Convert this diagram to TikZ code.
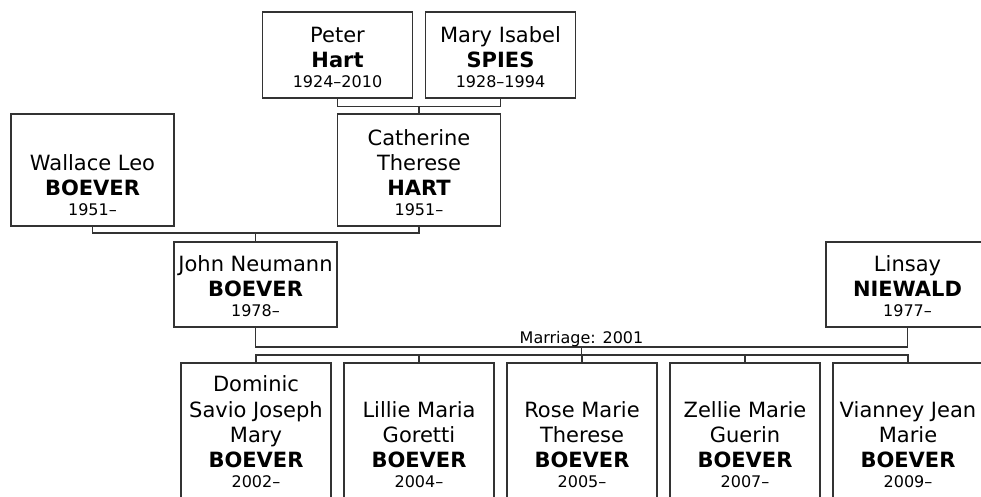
\documentclass[tikz,border=0pt]{standalone}
\usepackage{fontspec}
\setmainfont{DejaVu Sans}
\newcommand\fnamefont{\fontsize{21}{25.3}\selectfont}
\newcommand\fdatefont{\fontsize{16}{19}\selectfont}
\newcommand\famtext[3]{\vbox{\fnamefont\baselineskip=25.3pt\lineskiplimit=-100pt\halign{\hfil##\hfil\cr#1\cr\textbf{#2}\cr\noalign{\kern-6pt}{\fdatefont#3}\cr}}}
\tikzset{
  pbox/.style={draw=black!80, line width=1.2pt, inner sep=0pt, text depth=11pt, fill=white},
  conn/.style={draw=black!80, line width=1.2pt},
  lbl/.style={inner sep=0pt, font=\fdatefont}
}
\begin{document}
\begin{tikzpicture}[x=1pt, y=-1pt]
\useasboundingbox (0,0) rectangle (981,496);
\clip (0,0) rectangle (981,496);
% grandparents
\node[pbox, minimum width=150pt, text height=75pt] (peter) at (337.5,55) {\famtext{Peter}{Hart}{1924–2010}};
\node[pbox, minimum width=150pt, text height=75pt] (mary) at (500.5,55) {\famtext{Mary Isabel}{SPIES}{1928–1994}};
% parents of John
\node[pbox, minimum width=163pt, text height=101pt] (wallace) at (92.5,170) {\famtext{Wallace Leo}{BOEVER}{1951–}};
\node[pbox, minimum width=163pt, text height=101pt] (catherine) at (419,170) {\famtext{Catherine\cr Therese}{HART}{1951–}};
% couple
\node[pbox, minimum width=163pt, text height=74pt] (john) at (255.5,284.5) {\famtext{John Neumann}{BOEVER}{1978–}};
\node[pbox, minimum width=163pt, text height=74pt] (linsay) at (907.5,284.5) {\famtext{Linsay}{NIEWALD}{1977–}};
% children
\node[pbox, minimum width=150pt, text height=124pt] (c1) at (256,430.5) {\famtext{Dominic\cr Savio Joseph\cr Mary}{BOEVER}{2002–}};
\node[pbox, minimum width=150pt, text height=124pt] (c2) at (419,430.5) {\famtext{Lillie Maria\cr Goretti}{BOEVER}{2004–}};
\node[pbox, minimum width=150pt, text height=124pt] (c3) at (582,430.5) {\famtext{Rose Marie\cr Therese}{BOEVER}{2005–}};
\node[pbox, minimum width=150pt, text height=124pt] (c4) at (745,430.5) {\famtext{Zellie Marie\cr Guerin}{BOEVER}{2007–}};
\node[pbox, minimum width=150pt, text height=124pt] (c5) at (908,430.5) {\famtext{Vianney Jean\cr Marie}{BOEVER}{2009–}};
% connectors
\coordinate (pm) at (419,106.5);
\draw[conn] (peter.south) |- (pm) -| (mary.south);
\draw[conn] (pm) -- (catherine.north);
\coordinate (wc) at (255.5,233);
\draw[conn] (wallace.south) |- (wc) -| (catherine.south);
\draw[conn] (wc) -- (john.north);
\coordinate (mar) at (581.5,347);
\draw[conn] (john.south) |- (mar) -| (linsay.south);
\node[lbl, anchor=base] (marlbl) at (581.5,343) {Marriage: 2001};
\coordinate (kids) at (581.5,355);
\draw[conn] (mar) -- (kids);
\draw[conn] (c1.north) -- (c1.north |- kids) -- (c5.north |- kids) -- (c5.north);
\draw[conn] (c2.north) -- (c2.north |- kids);
\draw[conn] (c3.north) -- (c3.north |- kids);
\draw[conn] (c4.north) -- (c4.north |- kids);
\end{tikzpicture}
\end{document}
